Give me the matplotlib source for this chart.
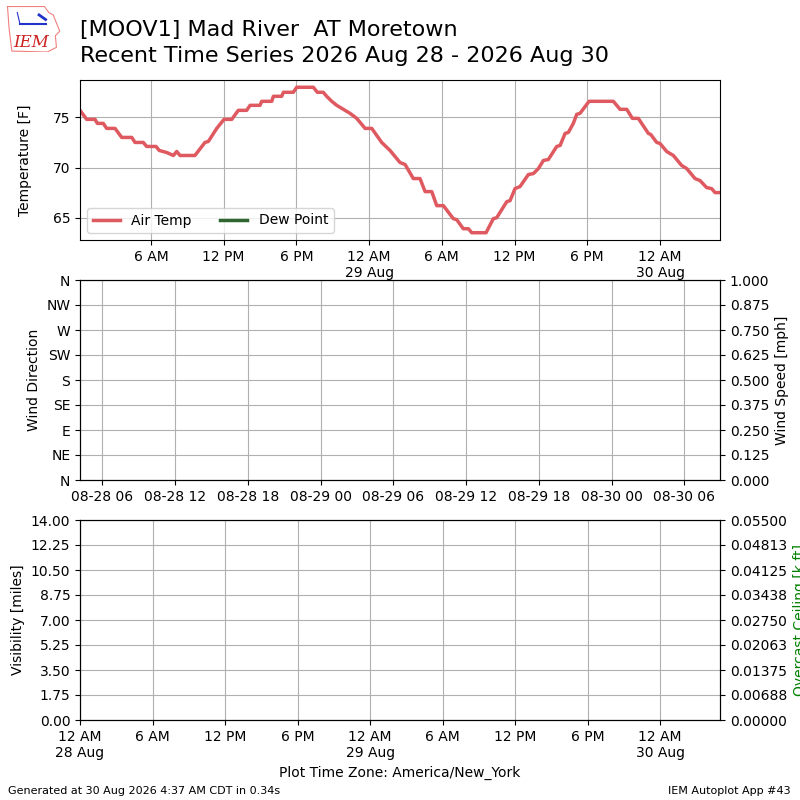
"""
Recent time series plot for a single station (temperature, wind, visibility)
"""

import numpy as np
import pandas as pd
import matplotlib
matplotlib.use("Agg")
import matplotlib.pyplot as plt
import matplotlib.dates as mdates
from matplotlib.ticker import FuncFormatter, FormatStrFormatter

# --- data (hours after 28 Aug 2026 00:00 local, America/New_York) ---
obs_hours = [
    0.15, 0.70, 1.39, 1.58, 2.07, 2.35, 3.04, 3.59, 4.42, 4.69, 5.37, 5.65,
    6.42, 6.69, 7.30, 7.85, 8.13, 8.40, 9.63, 10.46, 10.74, 11.43, 12.03,
    12.67, 13.21, 13.90, 14.18, 15.00, 15.14, 15.97, 16.10, 16.79, 16.93,
    17.75, 18.03, 19.40, 19.73, 20.22, 20.50, 20.92, 21.33, 21.88, 22.43,
    22.98, 23.67, 24.22, 25.04, 25.73, 26.55, 26.97, 27.65, 28.20, 28.62,
    29.17, 29.58, 30.13, 30.95, 31.23, 31.77, 32.19, 32.47, 33.65, 34.25,
    34.53, 35.36, 35.63, 36.04, 36.45, 37.14, 37.56, 37.97, 38.38, 38.79,
    39.48, 39.76, 40.17, 40.44, 40.85, 41.13, 41.40, 42.15, 44.15, 44.71,
    45.26, 45.72, 46.21, 47.04, 47.23, 47.73, 48.00, 48.55, 49.10, 49.79,
    50.20, 50.89, 51.30, 51.85, 52.26, 52.54, 52.95,
]
air_temp = [
    75.7, 74.8, 74.8, 74.4, 74.4, 73.9, 73.9, 73.0, 73.0, 72.5, 72.5, 72.1,
    72.1, 71.7, 71.5, 71.2, 71.6, 71.2, 71.2, 72.5, 72.6, 73.9, 74.8,
    74.8, 75.7, 75.7, 76.2, 76.2, 76.6, 76.6, 77.1, 77.1, 77.5,
    77.5, 78.0, 78.0, 77.5, 77.5, 77.1, 76.6, 76.2, 75.8, 75.4,
    74.9, 73.9, 73.9, 72.5, 71.7, 70.5, 70.3, 68.9, 68.9, 67.6,
    67.6, 66.2, 66.2, 64.9, 64.8, 63.9, 63.9, 63.5, 63.5, 64.9,
    65.0, 66.6, 66.7, 67.9, 68.1, 69.3, 69.4, 69.9, 70.7, 70.8,
    72.1, 72.2, 73.4, 73.5, 74.4, 75.3, 75.4, 76.6, 76.6, 75.8,
    75.8, 74.9, 74.9, 73.4, 73.3, 72.5, 72.4, 71.6, 71.2, 70.2,
    69.9, 68.9, 68.7, 68.0, 67.9, 67.5, 67.5,
]
dir_labels = ["N", "NE", "E", "SE", "S", "SW", "W", "NW", "N"]
utc_offset_hours = 4

start = pd.Timestamp("2026-08-28 00:00")
times = (start + pd.to_timedelta(obs_hours, unit="h")).to_pydatetime()
times_utc = (start + pd.to_timedelta(np.array(obs_hours) + utc_offset_hours,
                                     unit="h")).to_pydatetime()

TEMP_COLOR = "#df5a60"
DEWP_COLOR = "#2f662f"


def local_fmt(x, pos=None):
    d = mdates.num2date(x)
    if d.hour == 0:
        return "12 AM\n" + d.strftime("%d %b")
    return d.strftime("%I %p").lstrip("0")


def setup_local_xaxis(ax):
    ax.xaxis.set_major_locator(mdates.HourLocator(byhour=[0, 6, 12, 18]))
    ax.xaxis.set_major_formatter(FuncFormatter(local_fmt))


fig = plt.figure(figsize=(8, 8), dpi=100)

# --- top: temperature ---
ax1 = fig.add_axes([0.1, 0.7, 0.8, 0.2])
ax1.plot(times, air_temp, color=TEMP_COLOR, lw=2.5, label="Air Temp")
ax1.plot([], [], color=DEWP_COLOR, lw=2.5, label="Dew Point")
ax1.set_xlim(times[0], times[-1])
setup_local_xaxis(ax1)
ax1.set_ylabel("Temperature [F]", labelpad=15)
ax1.grid(True)
ax1.legend(loc="lower left", ncol=2)

# --- middle: wind (no data reported) ---
ax2 = fig.add_axes([0.1, 0.4, 0.8, 0.25])
ax2.set_xlim(times_utc[0], times_utc[-1])
ax2.xaxis.set_major_locator(mdates.HourLocator(byhour=[0, 6, 12, 18]))
ax2.xaxis.set_major_formatter(mdates.DateFormatter("%m-%d %H"))
ax2.set_ylim(0, 360)
ax2.set_yticks(np.arange(0, 361, 45))
ax2.set_yticklabels(dir_labels)
ax2.set_ylabel("Wind Direction")
ax2.grid(True)
ax2b = ax2.twinx()
ax2b.set_ylim(0, 1)
ax2b.set_yticks(np.linspace(0, 1, 9))
ax2b.yaxis.set_major_formatter(FormatStrFormatter("%.3f"))
ax2b.set_ylabel("Wind Speed [mph]")

# --- bottom: visibility / ceiling (no data reported) ---
ax3 = fig.add_axes([0.1, 0.1, 0.8, 0.25])
ax3.set_xlim(start.to_pydatetime(), times[-1])
setup_local_xaxis(ax3)
ax3.set_ylim(0, 14)
ax3.set_yticks(np.linspace(0, 14, 9))
ax3.yaxis.set_major_formatter(FormatStrFormatter("%.2f"))
ax3.set_ylabel("Visibility [miles]")
ax3.set_xlabel("Plot Time Zone: America/New_York")
ax3.grid(True)
ax3b = ax3.twinx()
ax3b.set_ylim(0, 0.055)
ax3b.set_yticks(np.linspace(0, 0.055, 9))
ax3b.yaxis.set_major_formatter(FormatStrFormatter("%.5f"))
ax3b.set_ylabel("Overcast Ceiling [k ft]", color="green")

# --- titles and footer ---
fig.text(0.1, 1 - 30 / 800, "[MOOV1] Mad River  AT Moretown",
         fontsize=16, va="center", ha="left")
fig.text(0.1, 1 - 56 / 800, "Recent Time Series 2026 Aug 28 - 2026 Aug 30",
         fontsize=16, va="center", ha="left")
fig.text(0.01, 0.011, "Generated at 30 Aug 2026 4:37 AM CDT in 0.34s",
         fontsize=8, va="center", ha="left")
fig.text(0.988, 0.011, "IEM Autoplot App #43", fontsize=8,
         va="center", ha="right")

# small IEM logo
logo = fig.add_axes([0.008, 0.935, 0.068, 0.058])
logo.set_xlim(0, 1)
logo.set_ylim(0, 1)
logo.axis("off")
logo.plot([0.02, 0.7, 0.78, 0.86, 0.98, 0.9, 0.92, 0.75, 0.1, 0.05, 0.02],
          [0.98, 0.98, 0.85, 0.8, 0.45, 0.35, 0.1, 0.0, 0.02, 0.5, 0.98],
          color="#f08080", lw=0.8)
logo.plot([0.25, 0.72], [0.6, 0.6], color="#2233cc", lw=1.5)
logo.plot([0.6, 0.72], [0.8, 0.7], color="#2233cc", lw=2)
logo.plot([0.2, 0.25], [0.85, 0.6], color="#2233cc", lw=0.8)
logo.text(0.45, 0.2, "IEM", color="#cc2222", fontsize=12, style="italic",
          family="serif", ha="center", va="center")

fig.savefig("out.png", dpi=100)
